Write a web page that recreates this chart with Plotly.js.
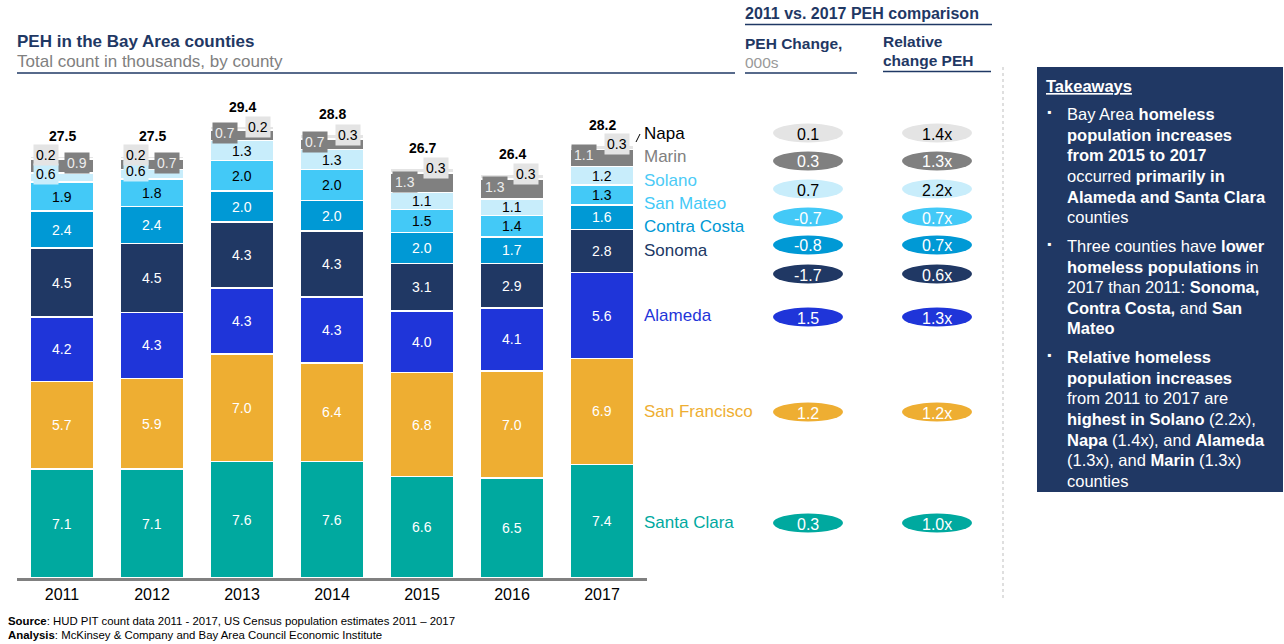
<!DOCTYPE html>
<html><head><meta charset="utf-8">
<script src="https://cdn.plot.ly/plotly-3.0.1.min.js"></script>
<style>body{margin:0;background:#fff}#chart{width:1284px;height:644px}</style>
</head><body><div id="chart"></div>
<script>
// ---------- data ----------
const years = ['2011','2012','2013','2014','2015','2016','2017'];
const totals = ['27.5','27.5','29.4','28.8','26.7','26.4','28.2'];
const santaClara   = [7.1,7.1,7.6,7.6,6.6,6.5,7.4];
const sanFrancisco = [5.7,5.9,7.0,6.4,6.8,7.0,6.9];
const alameda      = [4.2,4.3,4.3,4.3,4.0,4.1,5.6];
const sonoma       = [4.5,4.5,4.3,4.3,3.1,2.9,2.8];
const contraCosta  = [2.4,2.4,2.0,2.0,2.0,1.7,1.6];
const sanMateo     = [1.9,1.8,2.0,2.0,1.5,1.4,1.3];
const solano       = [0.6,0.6,1.3,1.3,1.1,1.1,1.2];
const marin        = [0.9,0.7,0.7,0.7,1.3,1.3,1.1];
const napa         = [0.2,0.2,0.2,0.3,0.3,0.3,0.3];
const counties  = ['Napa','Marin','Solano','San Mateo','Contra Costa','Sonoma','Alameda','San Francisco','Santa Clara'];
const pehChange = ['0.1','0.3','0.7','-0.7','-0.8','-1.7','1.5','1.2','0.3'];
const relChange = ['1.4x','1.3x','2.2x','0.7x','0.7x','0.6x','1.3x','1.2x','1.0x'];

// ---------- styles ----------
const F = '"Liberation Sans", Arial, sans-serif';
const NAVY = '#1F3864';
const C = {
  'Santa Clara':'#00A99F','San Francisco':'#EEAE32','Alameda':'#1F35D9','Sonoma':'#203864',
  'Contra Costa':'#0099D5','San Mateo':'#43C9F7','Solano':'#C8EDFB','Marin':'#808080','Napa':'#E4E4E4'
};
const TXT = {
  'Santa Clara':'#fff','San Francisco':'#fff','Alameda':'#fff','Sonoma':'#fff',
  'Contra Costa':'#fff','San Mateo':'#000','Solano':'#000','Marin':'#EDEDED','Napa':'#000'
};
const LEGC = {
  'Napa':'#000','Marin':'#808080','Solano':'#4DCBF6','San Mateo':'#43C9F7','Contra Costa':'#0099D5',
  'Sonoma':'#203864','Alameda':'#1F35D9','San Francisco':'#EEAE32','Santa Clara':'#00A99F'
};
const series = [
  ['Santa Clara',santaClara],['San Francisco',sanFrancisco],['Alameda',alameda],['Sonoma',sonoma],
  ['Contra Costa',contraCosta],['San Mateo',sanMateo],['Solano',solano],['Marin',marin],['Napa',napa]
];
// label placement tweaks (pixels) for thin top segments
const shifts = {
  'Solano': {x:[-16,-16,0,0,0,0,0], y:[3,3,0,0,0,0,0], bg:[true,true,false,false,false,false,false]},
  'Marin':  {x:[15,15,-17,-17,-17,-17,-18], y:[3,1,2,2,1,2,3], bg:[true,true,true,true,true,true,true]},
  'Napa':   {x:[-16,-16,16,16,14,14,15], y:[2,2,1,2,2,3,3], bg:[true,true,true,true,true,true,true]}
};

// plot geometry
const L=17, T=100, W=630, H=478, YMAX=31.14;
const P = px => (px-L)/W;
const Q = py => (T+H-py)/H;

const traces = series.map(([name,v]) => ({
  type:'bar', x:years, y:v, name:name,
  marker:{color:C[name], line:{color:'#fff', width:1.5}},
  hoverinfo:'skip', showlegend:false
}));

const ann = [];
const shapes = [];
function txt(px, py, text, size, color, anchor, extra){
  const a = anchor||'left';
  ann.push(Object.assign({xref:'paper', yref:'paper', x:P(a==='left'?px-2:px), y:Q(py), text:text, showarrow:false,
    xanchor:a, yanchor:'middle', font:{family:F, size:size, color:color}}, extra||{}));
}
function line(x0,y0,x1,y1,color,width,dash){
  shapes.push({type:'line', xref:'paper', yref:'paper', x0:P(x0), y0:Q(y0), x1:P(x1), y1:Q(y1),
    line:{color:color, width:width, dash:dash||'solid'}});
}

// segment labels
const base = years.map(()=>0);
series.forEach(([name,v]) => {
  v.forEach((val,i) => {
    const s = shifts[name];
    const a = {xref:'x', yref:'y', x:i, y:base[i]+val/2, text:val.toFixed(1), showarrow:false,
      font:{family:F, size:14, color:TXT[name]}, xanchor:'center', yanchor:'middle'};
    if (s){
      a.xshift = s.x[i]; a.yshift = s.y[i];
      if (s.bg[i]) { a.bgcolor = C[name]; a.borderpad = 2; }
    }
    ann.push(a);
    base[i] += val;
  });
});
// totals
totals.forEach((t,i) => {
  ann.push({xref:'x', yref:'y', x:i, y:base[i], text:'<b>'+t+'</b>', showarrow:false,
    xanchor:'center', yanchor:'bottom', yshift:10, font:{family:F, size:14, color:'#000'}});
});

// legend labels
const legY = [133,157,180,203,226,250,315,412,522];
counties.forEach((c,k) => txt(644, legY[k], c, 17, LEGC[c], 'left'));
line(636,142,640,134,'#000',1);

// comparison pills
const pillY = [133,161,189,217,245,274,317,412,523];
const pillTxt = ['#000','#fff','#000','#fff','#fff','#fff','#fff','#fff','#fff'];
counties.forEach((c,k) => {
  [[808,pehChange[k]],[937,relChange[k]]].forEach(([cx,label]) => {
    shapes.push({type:'circle', xref:'paper', yref:'paper', x0:P(cx-35), x1:P(cx+35),
      y0:Q(pillY[k]+9.5), y1:Q(pillY[k]-9.5), fillcolor:C[c], line:{width:0}});
    txt(cx, pillY[k]+1, label, 16, pillTxt[k], 'center');
  });
});

// headers
txt(17, 42, '<b>PEH in the Bay Area counties</b>', 17, NAVY);
txt(17, 62, 'Total count in thousands, by county', 17, '#808080');
line(17,73,735,73,NAVY,1.5);
txt(745, 14, '<b>2011 vs. 2017 PEH comparison</b>', 16, NAVY);
line(745,24.5,992,24.5,NAVY,1.5);
txt(745, 44, '<b>PEH Change,</b>', 15.5, NAVY);
txt(745, 63, '000s', 15.5, '#999999');
line(745,73,857,73,NAVY,1.5);
txt(883, 42, '<b>Relative</b>', 15.5, NAVY);
txt(883, 61, '<b>change PEH</b>', 15.5, NAVY);
line(883,71.5,991,71.5,NAVY,1.5);
line(1003,67,1003,600,'#BFBFBF',1,'dot');

// takeaways panel
shapes.push({type:'rect', xref:'paper', yref:'paper', x0:P(1037), x1:P(1283), y0:Q(492), y1:Q(67),
  fillcolor:'#203864', line:{width:0}, layer:'below'});
txt(1046, 86, '<b><u>Takeaways</u></b>', 16.5, '#fff');
const tk = [
  [114,'Bay Area <b>homeless</b>',true],[135,'<b>population increases</b>'],[155,'<b>from 2015 to 2017</b>'],
  [176,'occurred <b>primarily in</b>'],[197,'<b>Alameda and Santa Clara</b>'],[217,'counties'],
  [246,'Three counties have <b>lower</b>',true],[267,'<b>homeless populations</b> in'],[287,'2017 than 2011: <b>Sonoma,</b>'],
  [308,'<b>Contra Costa,</b> and <b>San</b>'],[328,'<b>Mateo</b>'],
  [357,'<b>Relative homeless</b>',true],[378,'<b>population increases</b>'],[398,'from 2011 to 2017 are'],
  [419,'<b>highest in Solano</b> (2.2x),'],[440,'<b>Napa</b> (1.4x), and <b>Alameda</b>'],
  [460,'(1.3x), and <b>Marin</b> (1.3x)'],[481,'counties']
];
tk.forEach(([y,t,b]) => {
  txt(1067, y, t, 16.5, '#fff');
  if (b) txt(1049, y-2, '▪', 12, '#fff', 'center');
});

// footnotes
txt(8, 621, '<b>Source</b>: HUD PIT count data 2011 - 2017, US Census population estimates 2011 – 2017', 11.4, '#000');
txt(8, 635, '<b>Analysis</b>: McKinsey &amp; Company and Bay Area Council Economic Institute', 11.4, '#000');

const layout = {
  width:1284, height:644, autosize:false,
  margin:{l:L, r:1284-L-W, t:T, b:644-T-H, pad:0},
  paper_bgcolor:'#fff', plot_bgcolor:'#fff',
  barmode:'stack', bargap:0.3,
  xaxis:{type:'category', range:[-0.5,6.5], showline:true, linecolor:'#808080', linewidth:3,
    ticks:'', showgrid:false, zeroline:false, tickfont:{family:F, size:16, color:'#000'}, fixedrange:true},
  yaxis:{range:[0,YMAX], visible:false, showgrid:false, zeroline:false, fixedrange:true},
  annotations:ann, shapes:shapes, showlegend:false
};
Plotly.newPlot('chart', traces, layout, {displayModeBar:false, staticPlot:true});
</script></body></html>
